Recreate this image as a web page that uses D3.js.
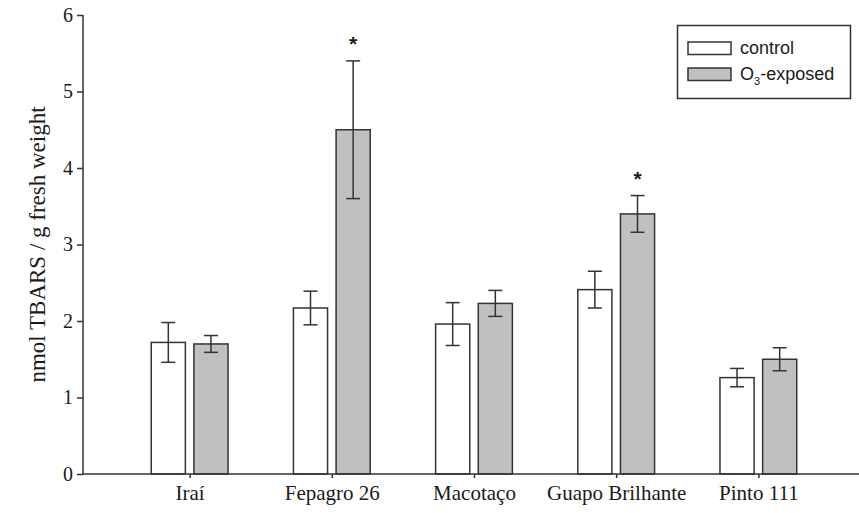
<!DOCTYPE html>
<meta charset="utf-8">
<head>
<style>
  body { margin: 0; background: #fff; }
  .tick text { font-family: "Liberation Serif", "Times New Roman", serif; fill: #1a1a1a; }
</style>
</head>
<body>
<div id="vis"></div>
<script src="https://cdn.jsdelivr.net/npm/d3@7"></script>
<script>
// data
var cultivars = ["Iraí", "Fepagro 26", "Macotaço", "Guapo Brilhante", "Pinto 111"];
var control = [1.72, 2.17, 1.96, 2.41, 1.26];
var controlErr = [0.26, 0.22, 0.28, 0.24, 0.12];
var exposed = [1.70, 4.50, 2.23, 3.40, 1.50];
var exposedErr = [0.11, 0.90, 0.17, 0.24, 0.15];
var exposedSig = [false, true, false, true, false];
var yTicks = [0, 1, 2, 3, 4, 5, 6];

var width = 859,
    height = 513;

var svg = d3.select("#vis").append("svg")
    .attr("width", width)
    .attr("height", height);

// x is a linear position scale, categories sit at 1..5
var x = d3.scaleLinear().domain([0.25, 5.75]).range([83, 865]);
var y = d3.scaleLinear().domain([0, 6]).range([474, 15]);

var axisColor = "#333";

// bars
var rows = cultivars.map(function(c, i) {
  return {name: c, pos: i + 1, c: control[i], ce: controlErr[i], e: exposed[i], ee: exposedErr[i], sig: exposedSig[i]};
});

var series = [
  {key: "c", err: "ce", from: -0.27, to: -0.03, fill: "#fff"},
  {key: "e", err: "ee", from: 0.03, to: 0.27, fill: "#c0c0c0"}
];

series.forEach(function(s) {
  var g = svg.append("g");
  g.selectAll("rect").data(rows).enter().append("rect")
    .attr("x", function(d) { return x(d.pos + s.from); })
    .attr("width", function(d) { return x(d.pos + s.to) - x(d.pos + s.from); })
    .attr("y", function(d) { return y(d[s.key]); })
    .attr("height", function(d) { return y(0) - y(d[s.key]); })
    .attr("fill", s.fill)
    .attr("stroke", axisColor)
    .attr("stroke-width", 1.5);

  // error bars
  var eb = g.selectAll(".err").data(rows).enter().append("g").attr("class", "err")
    .attr("stroke", axisColor).attr("stroke-width", 1.5);
  var cx = function(d) { return x(d.pos + (s.from + s.to) / 2); };
  eb.append("line")
    .attr("x1", cx).attr("x2", cx)
    .attr("y1", function(d) { return y(d[s.key] + d[s.err]); })
    .attr("y2", function(d) { return y(d[s.key] - d[s.err]); });
  eb.append("line")
    .attr("x1", function(d) { return cx(d) - 7; }).attr("x2", function(d) { return cx(d) + 7; })
    .attr("y1", function(d) { return y(d[s.key] + d[s.err]); })
    .attr("y2", function(d) { return y(d[s.key] + d[s.err]); });
  eb.append("line")
    .attr("x1", function(d) { return cx(d) - 7; }).attr("x2", function(d) { return cx(d) + 7; })
    .attr("y1", function(d) { return y(d[s.key] - d[s.err]); })
    .attr("y2", function(d) { return y(d[s.key] - d[s.err]); });

  if (s.key == "e") {
    g.selectAll(".star").data(rows.filter(function(d) { return d.sig; })).enter().append("text")
      .attr("class", "star")
      .attr("x", cx)
      .attr("y", function(d) { return y(d.e + d.ee) - 10; })
      .attr("text-anchor", "middle")
      .attr("font-family", "Liberation Sans, Arial, sans-serif")
      .attr("font-weight", "bold")
      .attr("font-size", "21px")
      .attr("fill", "#1a1a1a")
      .text("*");
  }
});

// y axis
var yAxis = svg.append("g")
    .attr("transform", "translate(83,0)")
    .call(d3.axisLeft(y).tickValues(yTicks).tickSize(6).tickPadding(4).tickFormat(d3.format("d")));
yAxis.selectAll("text").attr("font-size", "20px");

// x axis
var xAxis = svg.append("g")
    .attr("transform", "translate(0,474)")
    .call(d3.axisBottom(x).tickValues([1, 2, 3, 4, 5]).tickSize(4).tickPadding(7)
      .tickFormat(function(d) { return cultivars[d - 1]; }));
xAxis.selectAll("text").attr("font-size", "21px");

[yAxis, xAxis].forEach(function(a) {
  a.select(".domain").attr("stroke", axisColor).attr("stroke-width", 1.5);
  a.selectAll(".tick line").attr("stroke", axisColor).attr("stroke-width", 1.5);
});
yAxis.select(".domain").attr("d", "M0," + y(6) + "V" + y(0));
xAxis.select(".domain").attr("d", "M83,0H865");

// y axis title
svg.append("text")
    .attr("transform", "translate(40," + y(3) + ") rotate(-90)")
    .attr("text-anchor", "middle")
    .attr("dominant-baseline", "middle")
    .attr("font-family", "Liberation Serif, Times New Roman, serif")
    .attr("font-size", "23px")
    .attr("fill", "#1a1a1a")
    .text("nmol TBARS / g fresh weight");

// legend
var legend = svg.append("g").attr("font-family", "Liberation Sans, Arial, sans-serif");
legend.append("rect")
    .attr("x", 677.5).attr("y", 25.5).attr("width", 173).attr("height", 73)
    .attr("fill", "#fff").attr("stroke", axisColor).attr("stroke-width", 1.5);
var items = [{label: "control", fill: "#fff"}, {label: "O3-exposed", fill: "#c0c0c0"}];
items.forEach(function(it, i) {
  var yy = 42 + i * 26;
  legend.append("rect")
    .attr("x", 688).attr("y", yy).attr("width", 43).attr("height", 12.5)
    .attr("fill", it.fill).attr("stroke", axisColor).attr("stroke-width", 1.5);
  var t = legend.append("text")
    .attr("x", 740).attr("y", yy + 12)
    .attr("font-size", "18px")
    .attr("fill", "#1a1a1a");
  if (i == 0) {
    t.text(it.label);
  } else {
    t.append("tspan").text("O");
    t.append("tspan").attr("font-size", "11px").attr("dy", 5).text("3");
    t.append("tspan").attr("dy", -5).text("-exposed");
  }
});
</script>
</body>
